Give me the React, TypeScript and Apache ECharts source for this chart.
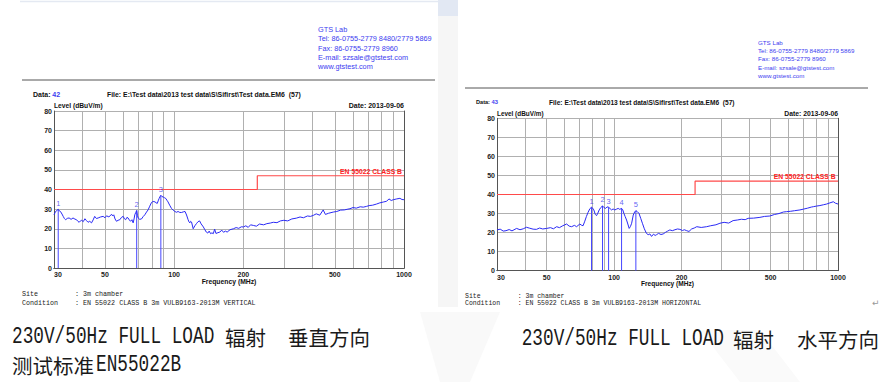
import React, { useEffect, useRef } from "react";
import * as echarts from "echarts";

// ---------- data ----------
const gridFreqs = [30, 40, 50, 60, 70, 80, 90, 100, 200, 300, 400, 500, 600, 700, 800, 900, 1000];
const labelFreqs = [30, 50, 100, 200, 500, 1000];

const limitFreq = [30, 230, 230, 1000];
const limitLevel = [40, 40, 47, 47];

const leftFreq = [
  30, 30.4, 30.8, 31.3, 31.7, 32, 32.5, 32.9, 33.3, 33.7, 34.3, 34.9, 35.6, 36.3, 37, 37.6, 38.1, 38.6, 39.1, 39.6,
  40.2, 40.9, 41.5, 42.2, 42.9, 43.7, 44.4, 45.1, 45.9, 46.7, 47.8, 49.1, 50, 50.8, 52, 53.4, 54, 54.6, 55.3, 56.1,
  57, 58, 59, 60, 60.8, 61.5, 62.3, 63, 63.8, 64.6, 65.5, 66.3, 66.9, 67.4, 68, 68.7, 69.2, 69.7, 70.8, 72.1,
  73.3, 74.5, 75.8, 77, 78.3, 79.7, 81, 82.5, 83.5, 84.4, 85.2, 86, 86.8, 87.5, 88.5, 89.5, 90.8, 92, 93, 94,
  95.6, 97.3, 99, 100.7, 102.3, 104, 105.8, 107.7, 109.6, 111.5, 113.2, 115, 116, 117, 118, 119, 121, 123, 125, 127,
  129, 131, 134, 136, 138, 140, 142, 144, 146, 148, 150, 152, 155, 158, 161, 164, 167, 170, 175, 181,
  186, 191, 196, 200, 205, 210, 215, 221, 228, 235, 245, 253, 262, 270, 280, 290, 300, 312, 325, 340,
  353, 365, 380, 392, 403, 415, 430, 445, 455, 470, 492, 510, 530, 550, 570, 582, 600, 620, 645, 665,
  687, 705, 730, 760, 785, 812, 840, 860, 880, 898, 930, 960, 980, 1000,
];
const leftLevel = [
  27.1, 28.5, 29.3, 29.9, 29.0, 28.8, 27.5, 26.3, 25.2, 24.6, 25.3, 25.5, 24.8, 25.5, 24.9, 24.6, 23.8, 23.3, 24.0, 24.3,
  23.6, 25.1, 24.2, 23.3, 23.8, 23.0, 24.5, 26.3, 25.2, 25.5, 26.0, 26.3, 25.6, 26.6, 26.0, 27.4, 26.5, 27.1, 25.0, 23.8,
  24.3, 24.6, 25.8, 26.3, 25.0, 24.6, 25.8, 25.5, 24.5, 23.8, 24.6, 23.0, 25.0, 27.1, 28.2, 29.3, 26.8, 25.5, 24.8, 25.0,
  26.2, 27.1, 28.5, 29.6, 31.5, 33.4, 33.9, 33.7, 33.2, 32.9, 34.2, 35.4, 36.4, 37.0, 36.4, 36.2, 35.8, 35.4, 34.5, 33.7,
  32.0, 30.4, 29.5, 28.8, 28.4, 28.8, 28.3, 28.3, 28.6, 28.8, 27.0, 24.6, 23.5, 23.0, 23.8, 23.4, 20.0, 21.5, 22.6, 23.6,
  24.0, 22.5, 20.9, 19.5, 18.3, 17.8, 18.8, 17.5, 17.9, 17.5, 19.8, 17.6, 18.0, 18.3, 19.3, 18.2, 18.8, 18.3, 19.5, 20.0,
  20.6, 20.2, 21.0, 20.9, 21.5, 20.7, 22.0, 21.7, 21.3, 22.4, 22.0, 22.6, 22.9, 23.3, 23.1, 24.0, 24.3, 24.0, 25.0, 25.4,
  26.0, 25.6, 26.5, 26.3, 26.8, 27.6, 26.9, 29.6, 27.3, 27.9, 28.5, 28.8, 29.5, 29.6, 30.0, 30.2, 30.8, 30.5, 31.2, 31.0,
  31.4, 31.8, 32.0, 32.6, 33.2, 33.6, 34.0, 35.2, 34.4, 34.8, 35.2, 35.5, 34.9, 34.8,
];

const rightFreq = [
  30, 31, 32, 32.9, 34, 35, 36.7, 38, 39.3, 40.6, 42, 43.5, 45, 46.5, 48, 50, 52, 53.6, 55.4, 57,
  59, 61.4, 63, 64.6, 66.5, 68, 70.3, 71.5, 72.7, 74, 75.2, 76.5, 78, 79.3, 80.3, 81.2, 82.4, 83.5, 84.6, 85.8,
  87.3, 88.8, 90.2, 91.6, 93, 94.5, 96, 97.4, 99, 100.8, 102.5, 104.3, 106, 108, 109.3, 110.6, 112, 113.7, 115.2, 116.8,
  118.3, 119.8, 121.8, 123.5, 125.1, 127, 129.2, 131.5, 133.8, 136.5, 139.5, 142, 144.5, 147, 150, 152.5, 154.7, 158, 162, 165.7,
  170, 173.5, 177.5, 182, 187, 192, 196.8, 202, 206, 211, 216, 222, 228, 234, 245, 259, 270, 285, 297, 310,
  325, 340, 355, 370, 385, 397, 420, 448, 470, 496, 520, 545, 570, 590, 615, 640, 676, 700, 730, 760,
  776, 800, 830, 860, 890, 920, 953, 975, 1000,
];
const rightLevel = [
  21.4, 21.8, 20.8, 21.0, 21.6, 20.9, 22.2, 21.5, 22.0, 22.8, 22.3, 21.8, 21.7, 22.4, 21.9, 22.2, 22.6, 22.0, 23.1, 22.6,
  23.6, 24.5, 23.4, 23.1, 23.8, 23.1, 24.5, 23.9, 23.6, 26.0, 28.4, 30.6, 32.6, 33.3, 32.8, 31.9, 29.6, 28.9, 30.2, 31.9,
  33.2, 34.0, 33.1, 32.7, 33.5, 33.3, 32.6, 31.9, 32.4, 31.9, 32.3, 32.7, 32.2, 32.7, 32.0, 30.1, 28.5, 26.6, 24.5, 22.2,
  23.2, 24.9, 29.2, 30.8, 31.5, 31.0, 30.1, 27.5, 24.9, 22.0, 19.6, 18.9, 19.3, 18.0, 19.2, 18.5, 18.9, 19.6, 19.0, 19.3,
  20.2, 20.8, 21.4, 21.0, 21.5, 21.9, 21.7, 21.1, 21.5, 21.0, 20.6, 21.9, 22.4, 23.1, 22.7, 23.1, 23.6, 24.1, 24.9, 25.4,
  25.0, 26.3, 26.6, 27.0, 26.8, 27.5, 27.6, 28.0, 28.5, 28.7, 29.5, 30.0, 30.8, 31.0, 31.2, 31.5, 31.9, 32.3, 32.8, 33.4,
  33.6, 33.9, 34.2, 34.6, 35.0, 35.6, 36.2, 35.4, 35.0,
];

const leftMarkerFreq = [31.3, 68.7, 87.5];
const leftMarkerLevel = [29.9, 29.3, 37.0];
const rightMarkerFreq = [79.3, 88.8, 94.5, 108, 125.1];
const rightMarkerLevel = [33.3, 34.0, 33.3, 32.7, 31.5];

// ---------- helpers ----------
const lg = (f: number) => Math.log10(f);
const SANS = '"Liberation Sans", Arial, sans-serif';
const MONO = '"Liberation Mono", monospace';
const CJK = '"Noto Sans CJK SC", sans-serif';
const TRACE = "#2a2af5";
const MARKER = "#4646ff";
const LIMIT = "#ff4a4a";
const BLUE_TXT = "#3c3cf0";

function pairs(fs: number[], ls: number[]) {
  return fs.map((f, i) => [lg(f), ls[i]]);
}

function markerSegments(mf: number[], ml: number[]) {
  const out: any[] = [];
  mf.forEach((f, i) => {
    out.push([lg(f), 0]);
    out.push([lg(f), ml[i]]);
    out.push([lg(f), "-"]);
  });
  return out;
}

function mainX(gridIndex: number) {
  return {
    type: "value",
    gridIndex,
    min: lg(30),
    max: 3,
    axisLine: { show: true, lineStyle: { color: "#555", width: 1 } },
    axisTick: { show: false, customValues: gridFreqs.map(lg) },
    splitLine: { show: true, lineStyle: { color: "#b0b0b0", width: 1 } },
    axisLabel: {
      customValues: labelFreqs.map(lg),
      formatter: (v: number) => String(Math.round(Math.pow(10, v))),
      fontSize: 7,
      fontWeight: "bold",
      fontFamily: SANS,
      color: "#222",
      margin: 3,
      alignMinLabel: "left",
    },
  };
}
function frameX(gridIndex: number) {
  return {
    type: "value",
    gridIndex,
    position: "top",
    min: lg(30),
    max: 3,
    axisLine: { show: true, lineStyle: { color: "#555", width: 1 } },
    axisTick: { show: false },
    splitLine: { show: false },
    axisLabel: { show: false },
  };
}
function mainY(gridIndex: number) {
  return {
    type: "value",
    gridIndex,
    min: 0,
    max: 80,
    interval: 10,
    axisLine: { show: true, lineStyle: { color: "#555", width: 1 } },
    axisTick: { show: false },
    splitLine: { show: true, lineStyle: { color: "#b0b0b0", width: 1 } },
    axisLabel: { fontSize: 7, fontWeight: "bold", fontFamily: SANS, color: "#222", margin: 2 },
  };
}
function frameY(gridIndex: number) {
  return {
    type: "value",
    gridIndex,
    position: "right",
    min: 0,
    max: 80,
    interval: 10,
    axisLine: { show: true, lineStyle: { color: "#555", width: 1 } },
    axisTick: { show: false },
    splitLine: { show: false },
    axisLabel: { show: false },
  };
}

function seriesFor(
  xi: number,
  yi: number,
  fs: number[],
  ls: number[],
  mf: number[],
  ml: number[]
) {
  return [
    {
      type: "line",
      xAxisIndex: xi,
      yAxisIndex: yi,
      data: pairs(limitFreq, limitLevel),
      symbol: "none",
      color: LIMIT,
      lineStyle: { color: LIMIT, width: 1.2 },
      z: 3,
      silent: true,
    },
    {
      type: "line",
      xAxisIndex: xi,
      yAxisIndex: yi,
      data: markerSegments(mf, ml),
      connectNulls: false,
      symbol: "none",
      color: MARKER,
      lineStyle: { color: MARKER, width: 1 },
      z: 4,
      silent: true,
    },
    {
      type: "line",
      xAxisIndex: xi,
      yAxisIndex: yi,
      data: pairs(fs, ls),
      symbol: "none",
      color: TRACE,
      lineStyle: { color: TRACE, width: 1 },
      z: 4,
      silent: true,
    },
    {
      type: "scatter",
      xAxisIndex: xi,
      yAxisIndex: yi,
      data: pairs(mf, ml),
      symbolSize: 0,
      z: 5,
      silent: true,
      label: {
        show: true,
        position: "top",
        distance: 2,
        formatter: (p: any) => String(p.dataIndex + 1),
        color: BLUE_TXT,
        fontSize: 7.5,
        fontFamily: SANS,
      },
    },
  ];
}

function txt(
  x: number,
  y: number,
  text: string,
  opts: { size?: number; weight?: string; family?: string; fill?: string; align?: string; scaleX?: number } = {}
) {
  return {
    type: "text",
    x,
    y,
    scaleX: opts.scaleX ?? 1,
    silent: true,
    z: 50,
    style: {
      text,
      fill: opts.fill ?? "#111",
      fontSize: opts.size ?? 7,
      fontWeight: opts.weight ?? "normal",
      fontFamily: opts.family ?? SANS,
      align: opts.align ?? "left",
      verticalAlign: "middle",
    },
  };
}

function buildGraphics() {
  const g: any[] = [];
  // slide background decorations
  g.push({ type: "rect", shape: { x: 438, y: 0, width: 20, height: 307 }, style: { fill: "#f6f6f6" }, z: -5, silent: true });
  g.push({ type: "rect", shape: { x: 438, y: 0, width: 20, height: 16 }, style: { fill: "#e2e8f3" }, z: -4, silent: true });
  g.push({ type: "line", shape: { x1: 20, y1: 1.5, x2: 438, y2: 1.5 }, style: { stroke: "#e4e9f2", lineWidth: 1.5 }, z: -4, silent: true });
  g.push({ type: "polygon", shape: { points: [[420, 312], [500, 312], [470, 382], [440, 382]] }, style: { fill: "#f9f9f9" }, z: -5, silent: true });
  g.push({ type: "polygon", shape: { points: [[700, 330], [760, 330], [800, 382], [740, 382]] }, style: { fill: "#fafafa" }, z: -5, silent: true });

  // left header
  const lh = ["GTS Lab", "Tel: 86-0755-2779 8480/2779 5869", "Fax: 86-0755-2779 8960", "E-mail: szsale@gtstest.com", "www.gtstest.com"];
  const ly = [29, 38.8, 48, 57.3, 66.7];
  lh.forEach((t, i) => g.push(txt(318, ly[i], t, { size: 7.3, fill: BLUE_TXT })));
  g.push({ type: "line", shape: { x1: 22, y1: 80, x2: 435, y2: 80 }, style: { stroke: "#555", lineWidth: 1 }, silent: true });
  g.push(txt(33, 94, "Data:", { weight: "bold" }));
  g.push(txt(52.3, 94, "42", { weight: "bold", fill: BLUE_TXT }));
  g.push(txt(107, 94, "File: E:\\Test data\\2013 test data\\S\\Sifirst\\Test data.EM6  (57)", { weight: "bold", size: 6.9 }));
  g.push(txt(54, 105.7, "Level (dBuV/m)", { weight: "bold", size: 6.7 }));
  g.push(txt(404, 105.7, "Date: 2013-09-06", { weight: "bold", align: "right" }));
  g.push(txt(402, 171.3, "EN 55022 CLASS B", { weight: "bold", size: 6.8, fill: "#ff2020", align: "right" }));
  g.push(txt(229, 281.7, "Frequency (MHz)", { weight: "bold", size: 6.8, align: "center" }));
  g.push(txt(22, 294.3, "Site", { family: MONO, size: 6.7, fill: "#222" }));
  g.push(txt(75, 294.3, ": 3m chamber", { family: MONO, size: 6.7, fill: "#222" }));
  g.push(txt(22, 302.7, "Condition", { family: MONO, size: 6.7, fill: "#222" }));
  g.push(txt(75, 302.7, ": EN 55022 CLASS B 3m VULB9163-2013M VERTICAL", { family: MONO, size: 6.7, fill: "#222" }));

  // right header
  const ry = [42, 50.3, 58.6, 67, 75.3];
  lh.forEach((t, i) => g.push(txt(758, ry[i], t, { size: 6.2, fill: BLUE_TXT })));
  g.push({ type: "line", shape: { x1: 465, y1: 88, x2: 868, y2: 88 }, style: { stroke: "#555", lineWidth: 1 }, silent: true });
  g.push(txt(476, 102, "Data:", { weight: "bold", size: 5.6 }));
  g.push(txt(491.5, 102, "43", { weight: "bold", size: 5.8, fill: BLUE_TXT }));
  g.push(txt(549, 102, "File: E:\\Test data\\2013 test data\\S\\Sifirst\\Test data.EM6  (57)", { weight: "bold", size: 6.6 }));
  g.push(txt(497, 113.3, "Level (dBuV/m)", { weight: "bold", size: 6.4 }));
  g.push(txt(838, 113.3, "Date: 2013-09-06", { weight: "bold", size: 6.8, align: "right" }));
  g.push(txt(835.7, 176.7, "EN 55022 CLASS B", { weight: "bold", size: 6.8, fill: "#ff2020", align: "right" }));
  g.push(txt(667.5, 283.3, "Frequency (MHz)", { weight: "bold", size: 6.6, align: "center" }));
  g.push(txt(465, 296, "Site", { family: MONO, size: 6.5, fill: "#222" }));
  g.push(txt(517.7, 296, ": 3m chamber", { family: MONO, size: 6.5, fill: "#222" }));
  g.push(txt(465, 303.3, "Condition", { family: MONO, size: 6.5, fill: "#222" }));
  g.push(txt(517.7, 303.3, ": EN 55022 CLASS B 3m VULB9163-2013M HORIZONTAL", { family: MONO, size: 6.5, fill: "#222" }));
  g.push(txt(872, 303, "\u21B5", { size: 9, fill: "#999", family: '"DejaVu Sans", sans-serif' }));

  // captions
  const latinScale = 10.65 / (23 * 0.6);
  const cap = "#1a1a1a";
  g.push(txt(12, 336.5, "230V/50Hz FULL LOAD", { family: MONO, size: 23, fill: cap, scaleX: latinScale }));
  g.push(txt(225, 336.5, "辐射", { family: CJK, size: 20.5, fill: cap }));
  g.push(txt(288, 336.5, "垂直方向", { family: CJK, size: 20.5, fill: cap }));
  g.push(txt(12, 365, "测试标准", { family: CJK, size: 20.5, fill: cap }));
  g.push(txt(96, 365, "EN55022B", { family: MONO, size: 23, fill: cap, scaleX: latinScale }));
  g.push(txt(521.7, 339, "230V/50Hz FULL LOAD", { family: MONO, size: 23, fill: cap, scaleX: latinScale }));
  g.push(txt(733, 339, "辐射", { family: CJK, size: 20.5, fill: cap }));
  g.push(txt(797, 339, "水平方向", { family: CJK, size: 20.5, fill: cap }));
  return g;
}

export default function App() {
  const ref = useRef<HTMLDivElement>(null);
  useEffect(() => {
    if (!ref.current) return;
    const chart = echarts.init(ref.current, null, { renderer: "svg" });
    chart.setOption({
      animation: false,
      backgroundColor: "#ffffff",
      grid: [
        { left: 54, top: 111, width: 350, height: 157, containLabel: false },
        { left: 497, top: 118.3, width: 341, height: 152.4, containLabel: false },
      ],
      xAxis: [mainX(0), frameX(0), mainX(1), frameX(1)],
      yAxis: [mainY(0), frameY(0), mainY(1), frameY(1)],
      series: [
        ...seriesFor(0, 0, leftFreq, leftLevel, leftMarkerFreq, leftMarkerLevel),
        ...seriesFor(2, 2, rightFreq, rightLevel, rightMarkerFreq, rightMarkerLevel),
      ],
      graphic: buildGraphics(),
    });
    return () => chart.dispose();
  }, []);
  return (
    <div
      ref={ref}
      style={{ position: "absolute", left: 0, top: 0, width: 885, height: 382 }}
    />
  );
}
